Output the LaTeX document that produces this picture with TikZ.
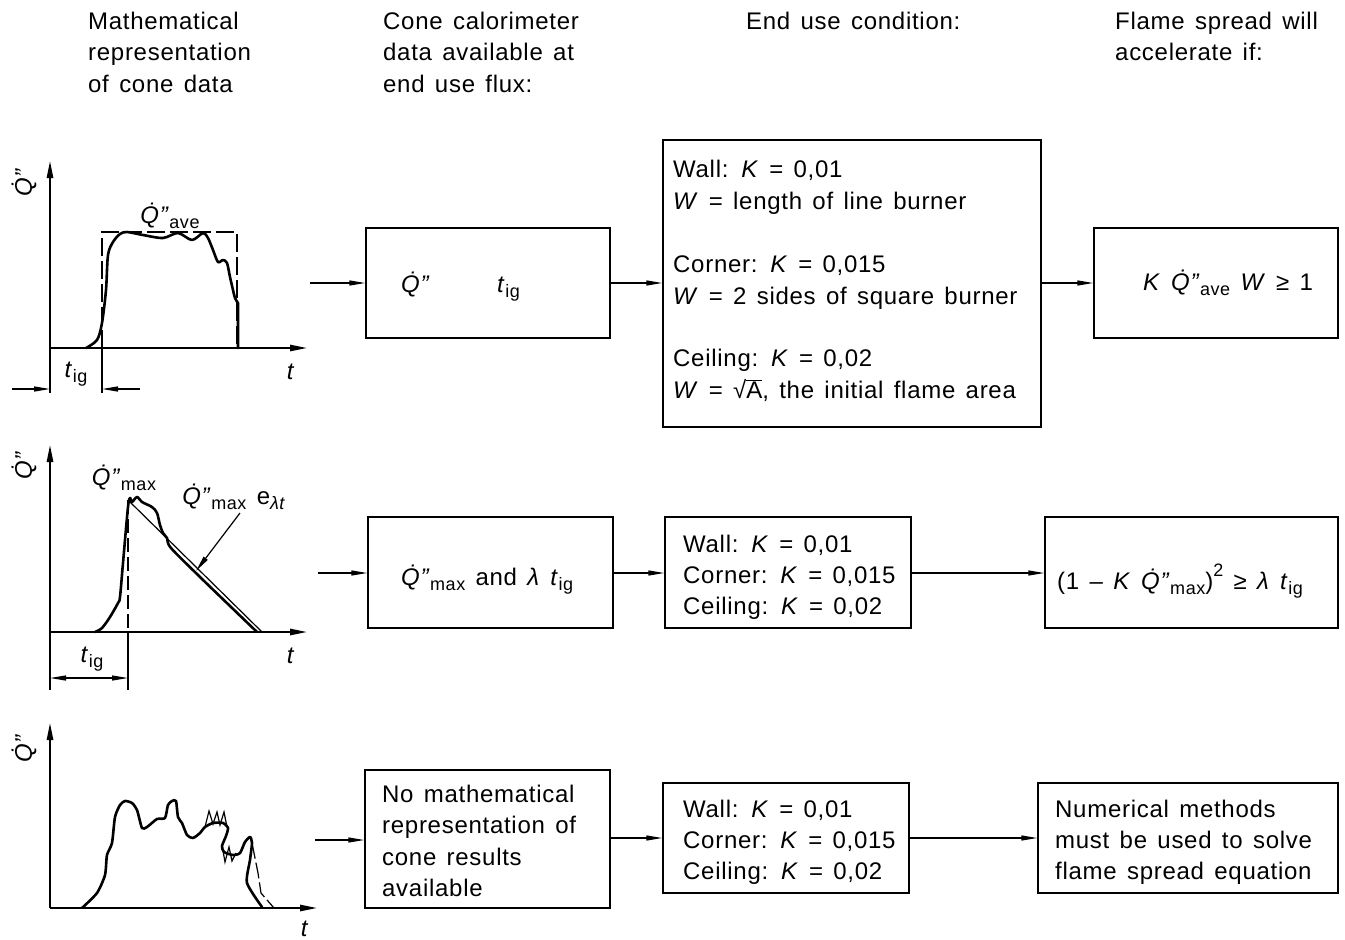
\documentclass[tikz,border=0pt]{standalone}
\usepackage{fontspec}
\setmainfont{Liberation Sans}[LetterSpace=3, WordSpace=1.4]
\usetikzlibrary{arrows.meta}

% dotted heat release symbol and small lowered/raised indices
\newcommand\Qdot{\textit{Q\char"0307''}}
\newcommand\lo[1]{\raisebox{-0.4ex}{\fontsize{18}{18}\selectfont #1}}
\newcommand\hi[1]{\raisebox{1.0ex}{\fontsize{18}{18}\selectfont #1}}

\begin{document}
\begin{tikzpicture}[x=1pt,y=-1pt,
  txt/.style={anchor=base west, inner sep=0pt, font=\fontsize{24}{28}\selectfont},
  ctxt/.style={inner sep=0pt, font=\fontsize{24}{28}\selectfont},
  box/.style={draw, line width=1.4pt, inner sep=0pt},
  conn/.style={line width=1.3pt, -{Triangle[length=16pt,width=5pt]}},
  axis/.style={line width=2.6pt, -{Triangle[length=18pt,width=6pt]}},
  curve/.style={line width=2.6pt, line join=round, line cap=round},
  thin/.style={line width=1.2pt},
  dashline/.style={line width=1.3pt, dash pattern=on 18pt off 5pt},
  dimarrow/.style={line width=1.2pt, -{Triangle[length=16pt,width=5pt]}}]
\useasboundingbox (0,0) rectangle (1345,940);

% ---------------- column headings ----------------
\node[txt] (h1a) at (88,29) {Mathematical};
\node[txt] (h1b) at (88,60) {representation};
\node[txt] (h1c) at (88,92) {of cone data};
\node[txt] (h2a) at (383,29) {Cone calorimeter};
\node[txt] (h2b) at (383,60) {data available at};
\node[txt] (h2c) at (383,92) {end use flux:};
\node[txt] (h3a) at (746,29) {End use condition:};
\node[txt] (h4a) at (1115,29) {Flame spread will};
\node[txt] (h4b) at (1115,60) {accelerate if:};

% ---------------- row 1: constant average release ----------------
\coordinate (o1) at (50,348);
\draw[axis] (o1) -- (50,160);
\draw[axis] (o1) -- (308,348);
\node[ctxt, rotate=90] (q1) at (24,182) {\Qdot};
\node[ctxt] (t1) at (291,372) {\textit{t}};
\draw[dashline] (102,348) -- (102,232) -- (237,232) -- (237,348);
\node[ctxt] (qave) at (170,216) {\Qdot\lo{ave}};
\draw[curve] plot[smooth, tension=0.5] coordinates {
  (86,348) (97,340) (102,323) (106,290) (108,255) (113,242) (120,234)
  (127,232) (143,235) (163,238) (178,233) (192,240) (203,233) (208,238)
  (213,250) (218,262) (223,260) (227,263) (230,277) (233,290) (235,298) (238,303)}
  -- (238,348);
\draw[thin] (50,348) -- (50,393);
\draw[thin] (102,348) -- (102,393);
\coordinate (d1a) at (12,389);
\coordinate (d1b) at (140,389);
\draw[dimarrow] (d1a) -- (50,389);
\draw[dimarrow] (d1b) -- (102,389);
\node[ctxt] (tig1) at (76,374) {\textit{t}\lo{ig}};

\node[box, minimum width=244pt, minimum height=110pt] (A1) at (488,283) {};
\node[txt] (A1q) at (401,292) {\Qdot};
\node[txt] (A1t) at (497,292) {\textit{t}\lo{ig}};

\node[box, minimum width=378pt, minimum height=287pt] (B1) at (852,283.5) {};
\node[txt] (B1a) at (673,177) {Wall: \textit{K} = 0,01};
\node[txt] (B1b) at (673,209) {\textit{W} = length of line burner};
\node[txt] (B1c) at (673,272) {Corner: \textit{K} = 0,015};
\node[txt] (B1d) at (673,304) {\textit{W} = 2 sides of square burner};
\node[txt] (B1e) at (673,366) {Ceiling: \textit{K} = 0,02};
\node[txt] (B1f) at (673,398) {\textit{W} = √$\overline{\mbox{A}}$, the initial flame area};

\node[box, minimum width=244pt, minimum height=110pt] (C1) at (1216,283) {};
\node[txt] (C1t) at (1143,290) {\textit{K} \Qdot\lo{ave} \textit{W} ≥ 1};

\coordinate (s1) at (310,283);
\draw[conn] (s1) -- (A1.west);
\draw[conn] (A1.east) -- (A1.east -| B1.west);
\draw[conn] (C1.west -| B1.east) -- (C1.west);

% ---------------- row 2: peak with exponential decay ----------------
\coordinate (o2) at (50,632);
\draw[axis] (o2) -- (50,444);
\draw[axis] (o2) -- (308,632);
\node[ctxt, rotate=90] (q2) at (24,465) {\Qdot};
\node[ctxt] (t2) at (291,656) {\textit{t}};
\draw[thin] (128,500) -- (262,632);
\draw[line width=1.3pt, dash pattern=on 14pt off 5pt] (128,500) -- (128,632);
\draw[curve] plot[smooth, tension=0.5] coordinates {
  (95,632) (102,628) (110,617) (118,603) (120,597) (123,563) (128,507)
  (130,498) (132,502) (137,497) (142,502) (152,507) (157,513) (160,525)
  (163,533) (167,538) (171,548) (200,577) (230,606) (257,632)};
\node[ctxt] (qmax) at (124,478) {\Qdot\lo{max}};
\node[ctxt] (qexp) at (234,497) {\Qdot\lo{max} e\lo{\textit{λt}}};
\coordinate (lead) at (240,513);
\draw[dimarrow] (lead) -- (196,571);
\draw[thin] (50,632) -- (50,690);
\draw[thin] (128,632) -- (128,690);
\draw[line width=1.2pt, {Triangle[length=16pt,width=5pt]}-{Triangle[length=16pt,width=5pt]}] (50,678) -- (128,678);
\node[ctxt] (tig2) at (92,659) {\textit{t}\lo{ig}};

\node[box, minimum width=245pt, minimum height=111pt] (A2) at (490.5,572.5) {};
\node[txt] (A2t) at (401,585) {\Qdot\lo{max} and \textit{λ} \textit{t}\lo{ig}};

\node[box, minimum width=246pt, minimum height=111pt] (B2) at (788,572.5) {};
\node[txt] (B2a) at (683,552) {Wall: \textit{K} = 0,01};
\node[txt] (B2b) at (683,583) {Corner: \textit{K} = 0,015};
\node[txt] (B2c) at (683,614) {Ceiling: \textit{K} = 0,02};

\node[box, minimum width=293pt, minimum height=111pt] (C2) at (1191.5,572.5) {};
\node[txt] (C2t) at (1057,589) {(1 – \textit{K} \Qdot\lo{max})\hi{2} ≥ \textit{λ} \textit{t}\lo{ig}};

\coordinate (s2) at (318,573);
\draw[conn] (s2) -- (s2 -| A2.west);
\draw[conn] (s2 -| A2.east) -- (s2 -| B2.west);
\draw[conn] (s2 -| B2.east) -- (s2 -| C2.west);

% ---------------- row 3: irregular release ----------------
\coordinate (o3) at (50,908);
\draw[axis] (o3) -- (50,722);
\draw[axis] (o3) -- (318,908);
\node[ctxt, rotate=90] (q3) at (24,748) {\Qdot};
\node[ctxt] (t3) at (305,929) {\textit{t}};
\draw[curve] plot[smooth, tension=0.4] coordinates {
  (82,908) (97,893) (105,875) (107,855) (112,843) (115,817) (120,805)
  (125,801) (132,803) (137,810) (142,828) (147,827) (157,819) (165,818)
  (168,805) (172,801) (176,801) (178,817) (182,823) (187,835) (193,838)
  (200,833) (205,827) (213,823) (223,823) (228,828) (226,836) (222,846)
  (224,852) (233,855) (240,853) (245,842) (250,837) (252,843) (250,860)
  (247,883) (262,907)};
\draw[thin] (205,827) -- (209,811) -- (213,824) -- (217,812) -- (220,825) -- (224,812) -- (227,827);
\draw[thin] (222,845) -- (225,862) -- (229,847) -- (232,861) -- (236,853);
\draw[thin, dash pattern=on 16pt off 4pt] (252,843) -- (258,873) -- (261,893) -- (274,908);

\node[box, minimum width=245pt, minimum height=138pt] (A3) at (487.5,839) {};
\node[txt] (A3a) at (382,802) {No mathematical};
\node[txt] (A3b) at (382,833) {representation of};
\node[txt] (A3c) at (382,865) {cone results};
\node[txt] (A3d) at (382,896) {available};

\node[box, minimum width=246pt, minimum height=110pt] (B3) at (786,838) {};
\node[txt] (B3a) at (683,817) {Wall: \textit{K} = 0,01};
\node[txt] (B3b) at (683,848) {Corner: \textit{K} = 0,015};
\node[txt] (B3c) at (683,879) {Ceiling: \textit{K} = 0,02};

\node[box, minimum width=300pt, minimum height=110pt] (C3) at (1188,838) {};
\node[txt] (C3a) at (1055,817) {Numerical methods};
\node[txt] (C3b) at (1055,848) {must be used to solve};
\node[txt] (C3c) at (1055,879) {flame spread equation};

\coordinate (s3) at (315,840);
\draw[conn] (s3) -- (A3.west |- s3);
\draw[conn] (A3.east |- B3.west) -- (B3.west);
\draw[conn] (B3.east) -- (B3.east -| C3.west);
\end{tikzpicture}
\end{document}
